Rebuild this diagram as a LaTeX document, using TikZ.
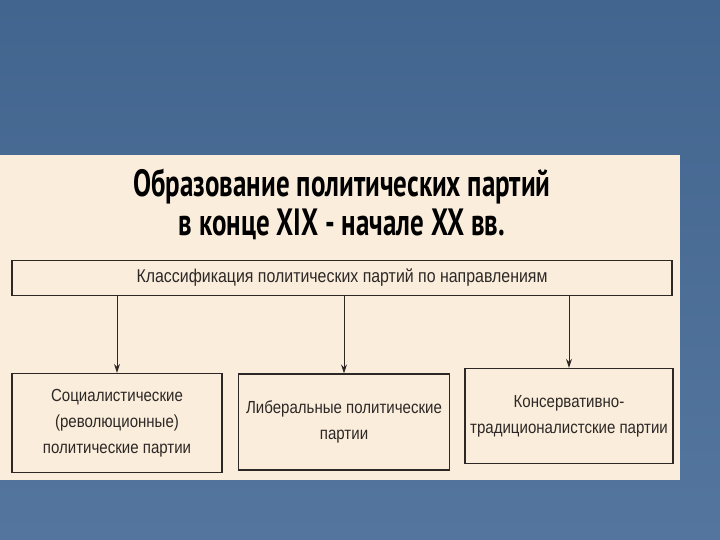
\documentclass[tikz,border=0pt]{standalone}
\usepackage{fontspec}
\setmainfont{Liberation Sans}[FakeStretch=0.86]
\newfontfamily\headfont{PT Sans}[FakeStretch=0.71]
\usetikzlibrary{positioning,arrows.meta}
\definecolor{slideblue}{RGB}{84,118,158}
\definecolor{slidetop}{RGB}{66,101,143}
\definecolor{paper}{RGB}{250,237,219}
\definecolor{ink}{RGB}{45,40,38}

\begin{document}
\begin{tikzpicture}[x=1pt, y=-1pt,
    box/.style = {draw=ink, line width=1.3pt, align=center, text=ink,
                  font=\fontsize{17.5}{26}\selectfont, inner sep=0pt},
    arr/.style = {-{Stealth[length=9pt, width=6pt]}, draw=ink, line width=1pt}]
    % Background
    \useasboundingbox (0,0) rectangle (720,540);
    \shade[top color=slidetop, bottom color=slideblue] (0,0) rectangle (720,540);
    \fill[paper] (0,155) rectangle (680,480);
    % Title
    \node[align=center, font=\headfont\bfseries\fontsize{38}{39}\selectfont] (title) at (342,204)
        {Образование политических партий\\в конце XIX - начале XX вв.};
    % Nodes
    \node[box, minimum width=660, minimum height=35, font=\fontsize{18.5}{26}\selectfont] (class) at (342,278) {Классификация политических партий по направлениям};
    \node[box, minimum width=210, minimum height=99] (soc) at (117,423) {Социалистические\\(революционные)\\политические партии};
    \node[box, minimum width=211, minimum height=96] (lib) at (344,422) {Либеральные политические\\партии};
    \node[box, minimum width=208, minimum height=95] (cons) at (569,416) {Консервативно-\\традиционалистские партии};
    % Edges
    \draw[arr] (class.south -| soc.north) -- (soc.north);
    \draw[arr] (class.south -| lib.north) -- (lib.north);
    \draw[arr] (class.south -| cons.north) -- (cons.north);
\end{tikzpicture}
\end{document}
